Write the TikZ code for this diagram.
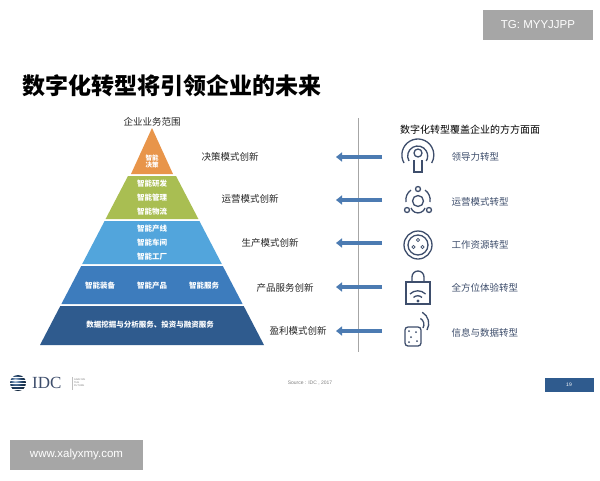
\documentclass[tikz,border=0pt]{standalone}
\usepackage{fontspec}
\setmainfont{Liberation Sans}
\newfontfamily\cjk{Noto Sans CJK SC}
\usetikzlibrary{arrows.meta}
\definecolor{topband}{HTML}{E8954A}
\definecolor{greenband}{HTML}{A9BE52}
\definecolor{lightband}{HTML}{52A5DC}
\definecolor{midband}{HTML}{3D7CBD}
\definecolor{darkband}{HTML}{2F5B8E}
\definecolor{arrowblue}{HTML}{4C7BB2}
\definecolor{iconblue}{HTML}{3E4E6C}
\definecolor{wmgray}{HTML}{A6A6A6}
\tikzset{
  bandtext/.style={font=\cjk\fontsize{7.5}{9}\selectfont\bfseries, text=white, align=center},
  modelabel/.style={font=\cjk\fontsize{9.5}{11}\selectfont, text=black!85},
  turnlabel/.style={font=\cjk\fontsize{9.5}{11}\selectfont, text=iconblue, anchor=west},
  bigarrow/.style={arrowblue, line width=4pt, -{Triangle[length=6pt,width=9pt]}},
  icon/.style={iconblue, line width=1.3pt}
}
\begin{document}
\begin{tikzpicture}[x=1pt,y=-1pt]
	\useasboundingbox[fill=white] (0,0) rectangle (600,480);
	% watermarks
	\node[fill=wmgray, text=white, minimum width=110pt, minimum height=30pt, font=\fontsize{11.5}{13}\selectfont] (tg) at (538,25) {TG: MYYJJPP};
	\node[fill=wmgray, text=white, minimum width=133pt, minimum height=30pt, font=\fontsize{11.5}{13}\selectfont] (www) at (76.5,455) {www.xalyxmy.com};
	% title
	\node[anchor=west, font=\cjk\fontsize{23}{26}\selectfont\bfseries] (title) at (19,86) {数字化转型将引领企业的未来};
	\node[modelabel] (scope) at (152,122) {企业业务范围};
	\node[font=\cjk\fontsize{10}{12}\selectfont] (cover) at (470,130) {数字化转型覆盖企业的方方面面};
	
	% pyramid
	\fill[topband] (152,128) -- (173,174) -- (131,174) -- cycle;
	\fill[greenband] (128,176) -- (176,176) -- (198.4,219) -- (105.6,219) -- cycle;
	\fill[lightband] (104.6,221) -- (199.4,221) -- (221.8,264) -- (82.2,264) -- cycle;
	\fill[midband] (81.2,266) -- (222.8,266) -- (242.6,304) -- (61.4,304) -- cycle;
	\fill[darkband] (60.3,306) -- (243.7,306) -- (264,345) -- (40,345) -- cycle;
	
	\node[bandtext, font=\cjk\fontsize{6.5}{7}\selectfont\bfseries] (decide) at (152,162) {智能\\决策};
	\node[bandtext] (rnd) at (152,184) {智能研发};
	\node[bandtext] (mgmt) at (152,198) {智能管理};
	\node[bandtext] (logi) at (152,212) {智能物流};
	\node[bandtext] (line) at (152,229) {智能产线};
	\node[bandtext] (shop) at (152,243) {智能车间};
	\node[bandtext] (fact) at (152,257) {智能工厂};
	\node[bandtext] (equip) at (100,286) {智能装备};
	\node[bandtext] (prod) at (152,286) {智能产品};
	\node[bandtext] (serv) at (204,286) {智能服务};
	\node[bandtext] (data) at (150,325) {数据挖掘与分析服务、投资与融资服务};
	
	% innovation labels
	\node[modelabel] (m1) at (230,157) {决策模式创新};
	\node[modelabel] (m2) at (250,199) {运营模式创新};
	\node[modelabel] (m3) at (270,243) {生产模式创新};
	\node[modelabel] (m4) at (285,288) {产品服务创新};
	\node[modelabel] (m5) at (298,331) {盈利模式创新};
	
	% divider and arrows
	\coordinate (dtop) at (358,118);
	\coordinate (dbot) at (358,352);
	\draw[gray!70, line width=0.8pt] (dtop) -- (dbot);
	\foreach \y [count=\i] in {157,200,243,287,331} {
		\coordinate (as\i) at (382,\y);
		\coordinate (ae\i) at (336,\y);
		\draw[bigarrow] (as\i) -- (ae\i);
	}
	
	% icons
	\draw[icon] (418,153) circle (4pt);
	\draw[icon] (414,160) -- (414,172) -- (422,172) -- (422,160);
	\draw[icon] (409,161) arc (210:-30:10pt);
	\draw[icon] (404,163) arc (210:-30:16pt);
	\draw[icon] (418,201) circle (5.5pt);
	\draw[icon] (418,189) circle (2.5pt);
	\draw[icon] (407,210) circle (2.5pt);
	\draw[icon] (429,210) circle (2.5pt);
	\draw[icon] (406,202) arc (190:125:12pt);
	\draw[icon] (430,202) arc (-10:55:12pt);
	\draw[icon] (411,208) arc (200:340:7.5pt);
	\draw[icon] (418,245) circle (14pt);
	\draw[icon] (418,245) circle (10pt);
	\draw[icon, line width=0.8pt] (418,240) circle (1.6pt) (413.5,247) circle (1.6pt) (422.5,247) circle (1.6pt);
	\draw[icon] (406,282) rectangle (430,304);
	\draw[icon] (412,282) -- (412,277) arc (180:0:6pt) -- (424,282);
	\draw[icon] (410,294) arc (135:45:11pt);
	\draw[icon] (413.5,297.5) arc (135:45:6pt);
	\fill[iconblue] (418,301) circle (1.6pt);
	\draw[icon, rounded corners=3pt] (405,327) rectangle (421,346);
	\fill[iconblue] (409,331) circle (1pt) (416,332) circle (1pt) (411,337) circle (1pt) (417,341) circle (1pt) (409,342) circle (1pt);
	\draw[icon] (423,328) arc (-30:60:7pt);
	\draw[icon] (427,330) arc (-30:60:13pt);
	
	\node[turnlabel] (t1) at (448,157) {领导力转型};
	\node[turnlabel] (t2) at (448,202) {运营模式转型};
	\node[turnlabel] (t3) at (448,245) {工作资源转型};
	\node[turnlabel] (t4) at (448,288) {全方位体验转型};
	\node[turnlabel] (t5) at (448,333) {信息与数据转型};
	
	% footer
	\shade[ball color=darkband] (18,383) circle (8pt);
	\foreach \y in {377,380,383,386,389} {\draw[white, line width=0.7pt] (6,\y) -- (30,\y);}
	\node[anchor=west, font=\fontsize{17}{18}\selectfont, text=iconblue, inner sep=0pt] (idc) at (32,383) {\setmainfont{Liberation Serif}IDC};
	\draw[gray!50] (72,377) -- (72,390);
	\node[anchor=west, font=\fontsize{2.5}{3}\selectfont, text=gray, align=left, inner sep=0pt] (future) at (74,383) {ANALYZE\\THE\\FUTURE};
	\node[font=\fontsize{5}{6}\selectfont, text=gray] (src) at (310,383) {Source : IDC , 2017};
	\node[fill=darkband, text=white, minimum width=49pt, minimum height=14pt, inner sep=0pt, font=\fontsize{5}{6}\selectfont] (page) at (569,385) {19};
\end{tikzpicture}
\end{document}
